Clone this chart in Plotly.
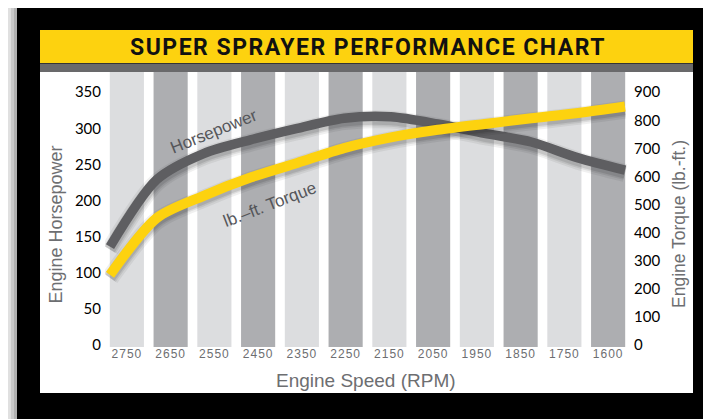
import plotly.graph_objects as go

# ---------------- data ----------------
rpm_labels = ["2750", "2650", "2550", "2450", "2350", "2250",
              "2150", "2050", "1950", "1850", "1750", "1600"]
horsepower = [136, 229, 265, 284, 300, 314, 316, 306, 293, 281, 259, 242]
torque = [249, 452, 531, 596, 648, 701, 739, 766, 787, 807, 826, 849]
hp_ticks = [0, 50, 100, 150, 200, 250, 300, 350]
tq_ticks = [0, 100, 200, 300, 400, 500, 600, 700, 800, 900]
sample_pos = list(range(len(horsepower)))

# ---------------- layout helpers (page pixel -> paper) ----------------
OFF = 8                      # page body margin
W, H = 711 - OFF, 419 - OFF  # figure size
L, R, T, B = 105 - OFF, 81, 72 - OFF, 72
PW, PH = W - L - R, H - T - B


def px(x):
    return (x - OFF - L) / PW


def py(y):
    return (H - B - (y - OFF)) / PH


HP_MIN, HP_MAX = -3, 378
TQ_MIN, TQ_MAX = HP_MIN * 900 / 350, HP_MAX * 900 / 350

YELLOW = "#FDD20F"
DARK = "#5E5E61"
LIGHT_BAR = "#DCDDDF"
DARK_BAR = "#ADAEB1"
TXT_GRAY = "#6D6E71"

fig = go.Figure()

# stripes (one per rpm category)
fig.add_trace(go.Bar(
    x=rpm_labels, y=[HP_MAX - HP_MIN] * len(rpm_labels), base=HP_MIN,
    marker=dict(color=[LIGHT_BAR if i % 2 == 0 else DARK_BAR for i in range(len(rpm_labels))],
                line=dict(width=0)),
    hoverinfo="skip", showlegend=False, xaxis="x", yaxis="y"))

# soft shadows for the curves
hp_shadow = [v - 4 for v in horsepower]
tq_shadow = [v - 10.5 for v in torque]
for w, op in [(18, 0.06), (14, 0.08), (11, 0.10)]:
    fig.add_trace(go.Scatter(x=sample_pos, y=hp_shadow, mode="lines",
                             line=dict(color=f"rgba(0,0,0,{op})", width=w, shape="spline", smoothing=0.8),
                             hoverinfo="skip", showlegend=False, xaxis="x2", yaxis="y"))
fig.add_trace(go.Scatter(x=sample_pos, y=horsepower, mode="lines",
                         line=dict(color=DARK, width=9.5, shape="spline", smoothing=0.8),
                         name="Horsepower", showlegend=False, xaxis="x2", yaxis="y"))
for w, op in [(18, 0.06), (14, 0.08), (11, 0.10)]:
    fig.add_trace(go.Scatter(x=sample_pos, y=tq_shadow, mode="lines",
                             line=dict(color=f"rgba(0,0,0,{op})", width=w, shape="spline", smoothing=0.8),
                             hoverinfo="skip", showlegend=False, xaxis="x2", yaxis="y2"))
fig.add_trace(go.Scatter(x=sample_pos, y=torque, mode="lines",
                         line=dict(color=YELLOW, width=10, shape="spline", smoothing=0.8),
                         name="lb.-ft. Torque", showlegend=False, xaxis="x2", yaxis="y2"))

# ---------------- background panels ----------------
shapes = []
for off, op in [(12, 0.05), (9, 0.07), (6, 0.09), (3, 0.12)]:
    shapes.append(dict(type="rect", xref="paper", yref="paper",
                       x0=px(17 - off), x1=px(711 + 5), y0=py(419 + 5), y1=py(6 - off * 0.5),
                       fillcolor=f"rgba(0,0,0,{op})", line=dict(width=0), layer="below"))
shapes.append(dict(type="rect", xref="paper", yref="paper",
                   x0=px(17), x1=px(711 + 5), y0=py(419 + 5), y1=py(6),
                   fillcolor="black", line=dict(width=0), layer="below"))
shapes.append(dict(type="rect", xref="paper", yref="paper",
                   x0=px(40), x1=px(693), y0=py(393), y1=py(72),
                   fillcolor="white", line=dict(width=0), layer="below"))
shapes.append(dict(type="rect", xref="paper", yref="paper",
                   x0=px(40), x1=px(693), y0=py(63), y1=py(30),
                   fillcolor=YELLOW, line=dict(width=0), layer="below"))
shapes.append(dict(type="rect", xref="paper", yref="paper",
                   x0=px(40), x1=px(693), y0=py(72), y1=py(63.5),
                   fillcolor="#69696B", line=dict(width=0), layer="below"))

annotations = [
    dict(text='<span style="letter-spacing:1.5px">SUPER SPRAYER PERFORMANCE CHART</span>',
         xref="paper", yref="paper", x=px(368), y=py(47), showarrow=False,
         xanchor="center", yanchor="middle",
         font=dict(family="Roboto, sans-serif", size=23, color="#111111", weight="bold")),
    dict(text="Engine Speed (RPM)", xref="paper", yref="paper", x=px(366), y=py(380),
         showarrow=False, xanchor="center", yanchor="middle",
         font=dict(family="Liberation Sans, Arial, sans-serif", size=19, color=TXT_GRAY)),
    dict(text="Engine Horsepower", xref="paper", yref="paper", x=px(55.5), y=py(225),
         showarrow=False, xanchor="center", yanchor="middle", textangle=-90,
         font=dict(family="Liberation Sans, Arial, sans-serif", size=18, color=TXT_GRAY)),
    dict(text="Engine Torque (lb.-ft.)", xref="paper", yref="paper", x=px(679), y=py(224),
         showarrow=False, xanchor="center", yanchor="middle", textangle=-90,
         font=dict(family="Liberation Sans, Arial, sans-serif", size=17.5, color=TXT_GRAY)),
    dict(text="Horsepower", xref="x2", yref="y", x=2.22, y=295,
         showarrow=False, xanchor="center", yanchor="middle", textangle=-22,
         font=dict(family="Liberation Sans, Arial, sans-serif", size=17, color="#55565A")),
    dict(text="lb.–ft. Torque", xref="x2", yref="y", x=3.42, y=194,
         showarrow=False, xanchor="center", yanchor="middle", textangle=-21,
         font=dict(family="Liberation Sans, Arial, sans-serif", size=17, color="#55565A")),
]

n = len(rpm_labels)
pad_units = 5 / (515 / (n - 1))   # curves run from stripe edge to stripe edge

fig.update_layout(
    width=W, height=H, autosize=False,
    margin=dict(l=L, r=R, t=T, b=B, pad=0),
    paper_bgcolor="white", plot_bgcolor="rgba(0,0,0,0)",
    bargap=0.22, showlegend=False,
    shapes=shapes, annotations=annotations,
    xaxis=dict(type="category", range=[-0.5, n - 0.5], showgrid=False, zeroline=False,
               showline=False, ticks="", ticklabelstandoff=-2,
               tickmode="array", tickvals=rpm_labels,
               ticktext=[f'<span style="letter-spacing:1px">{t}</span>' for t in rpm_labels],
               tickfont=dict(family="Liberation Sans, Arial, sans-serif", size=12, color=TXT_GRAY)),
    xaxis2=dict(overlaying="x", range=[-pad_units, (n - 1) + pad_units], visible=False),
    yaxis=dict(range=[HP_MIN, HP_MAX], showgrid=False, zeroline=False, showline=False,
               ticks="", tickmode="array", tickvals=hp_ticks, ticklabelstandoff=3,
               tickfont=dict(family="Lato, Open Sans, sans-serif", size=15, color="black")),
    yaxis2=dict(range=[TQ_MIN, TQ_MAX], overlaying="y", side="right", showgrid=False,
                zeroline=False, showline=False, ticks="", tickmode="array", tickvals=tq_ticks,
                ticklabelstandoff=3,
                tickfont=dict(family="Lato, Open Sans, sans-serif", size=15, color="black")),
)

fig.write_html("out.html")
